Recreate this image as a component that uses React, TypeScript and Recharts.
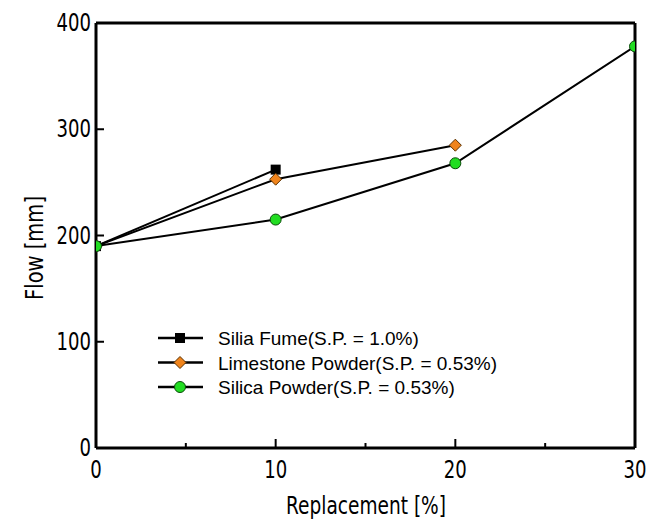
import { LineChart, Line, XAxis, YAxis, ReferenceLine } from 'recharts';

// Replacement ratio (%) on the x axis
const replacement = [0, 10, 20, 30];
// Flow values in mm (null where the series has no point)
const siliaFume = [190, 262, null, null];
const limestonePowder = [190, 253, 285, null];
const silicaPowder = [190, 215, 268, 378];

const xTicks = [0, 5, 10, 15, 20, 25, 30];
const yTicks = [0, 100, 200, 300, 400];

const seriesNames = [
  'Silia Fume(S.P. = 1.0%)',
  'Limestone Powder(S.P. = 0.53%)',
  'Silica Powder(S.P. = 0.53%)',
];

const data = replacement.map((r, i) => ({
  r,
  sf: siliaFume[i],
  lp: limestonePowder[i],
  sp: silicaPowder[i],
}));

const tickFont = '"DejaVu Sans", sans-serif';
const legendFont = '"Liberation Sans", Arial, sans-serif';

function SquareDot(props: any) {
  const { cx, cy } = props;
  if (cx == null || cy == null) return null;
  return <rect x={cx - 5} y={cy - 5} width={10} height={10} fill="#000" />;
}

function DiamondDot(props: any) {
  const { cx, cy } = props;
  if (cx == null || cy == null) return null;
  const s = 6;
  return (
    <polygon
      points={`${cx},${cy - s} ${cx + s},${cy} ${cx},${cy + s} ${cx - s},${cy}`}
      fill="#f0841c"
      stroke="#5a3000"
      strokeWidth={1}
    />
  );
}

function CircleDot(props: any) {
  const { cx, cy } = props;
  if (cx == null || cy == null) return null;
  return <circle cx={cx} cy={cy} r={5.5} fill="#22dd22" stroke="#0a4a0a" strokeWidth={1} />;
}

// narrow tick font: squeeze glyphs to the reference width
function NarrowText({ x, y, anchor, children, size = 24, perChar = 11.5 }: any) {
  const s = String(children);
  return (
    <text
      x={x}
      y={y}
      textAnchor={anchor}
      fontSize={size}
      fontFamily={tickFont}
      fill="#000"
      textLength={s.length * perChar}
      lengthAdjust="spacingAndGlyphs"
    >
      {s}
    </text>
  );
}

function XTick(props: any) {
  const { x, y, payload } = props;
  const v = payload.value;
  const major = v % 10 === 0;
  return (
    <g>
      {v !== 0 && v !== 30 && (
        <line x1={x} x2={x} y1={y} y2={y - (major ? 9 : 5)} stroke="#000" strokeWidth={2} />
      )}
      {major && <NarrowText x={x} y={y + 30} anchor="middle">{v}</NarrowText>}
    </g>
  );
}

function YTick(props: any) {
  const { x, y, payload } = props;
  const v = payload.value;
  return (
    <g>
      {v !== 0 && v !== 400 && (
        <line x1={x} x2={x + 8} y1={y} y2={y} stroke="#000" strokeWidth={2} />
      )}
      <NarrowText x={x - 5} y={y + 8} anchor="end">{v}</NarrowText>
    </g>
  );
}

function LegendBox() {
  const markers = [SquareDot, DiamondDot, CircleDot];
  return (
    <svg width={360} height={80} style={{ display: 'block' }}>
      {seriesNames.map((name, i) => {
        const Marker = markers[i];
        const cy = 12 + i * 24.5;
        return (
          <g key={name}>
            <line x1={0} x2={45} y1={cy} y2={cy} stroke="#000" strokeWidth={2.5} />
            <Marker cx={22} cy={cy} />
            <text x={60} y={cy + 7} fontSize={19} fontFamily={legendFont} fill="#000">
              {name}
            </text>
          </g>
        );
      })}
    </svg>
  );
}

export default function App() {
  return (
    <div style={{ position: 'absolute', left: 0, top: 0, width: 664, height: 527, background: '#fff' }}>
      <LineChart width={664} height={527} data={data} margin={{ top: 23, right: 29, bottom: 49, left: 36 }}>
        <XAxis
          dataKey="r"
          type="number"
          domain={[0, 30]}
          ticks={xTicks}
          allowDataOverflow
          axisLine={{ stroke: '#000', strokeWidth: 3 }}
          tickLine={false}
          tickSize={0}
          tickMargin={0}
          height={30}
          tick={<XTick />}
          interval={0}
        />
        <YAxis
          type="number"
          domain={[0, 400]}
          ticks={yTicks}
          allowDataOverflow
          axisLine={{ stroke: '#000', strokeWidth: 3 }}
          tickLine={false}
          tickSize={0}
          tickMargin={0}
          width={60}
          tick={<YTick />}
          interval={0}
        />
        <ReferenceLine y={400} stroke="#000" strokeWidth={3} />
        <ReferenceLine x={30} stroke="#000" strokeWidth={3} />
        <Line dataKey="sf" name={seriesNames[0]} stroke="#000" strokeWidth={2} dot={<SquareDot />} isAnimationActive={false} connectNulls={false} />
        <Line dataKey="lp" name={seriesNames[1]} stroke="#000" strokeWidth={2} dot={<DiamondDot />} isAnimationActive={false} connectNulls={false} />
        <Line dataKey="sp" name={seriesNames[2]} stroke="#000" strokeWidth={2} dot={<CircleDot />} isAnimationActive={false} connectNulls={false} />
        <text
          x={286}
          y={514}
          fontSize={24}
          fontFamily={tickFont}
          fill="#000"
          textLength={160}
          lengthAdjust="spacingAndGlyphs"
        >
          Replacement [%]
        </text>
        <text
          x={43}
          y={300}
          fontSize={24}
          fontFamily={tickFont}
          fill="#000"
          textLength={104}
          lengthAdjust="spacingAndGlyphs"
          transform="rotate(-90 43 300)"
        >
          Flow [mm]
        </text>
      </LineChart>
      <div style={{ position: 'absolute', left: 158, top: 326 }}>
        <LegendBox />
      </div>
    </div>
  );
}
